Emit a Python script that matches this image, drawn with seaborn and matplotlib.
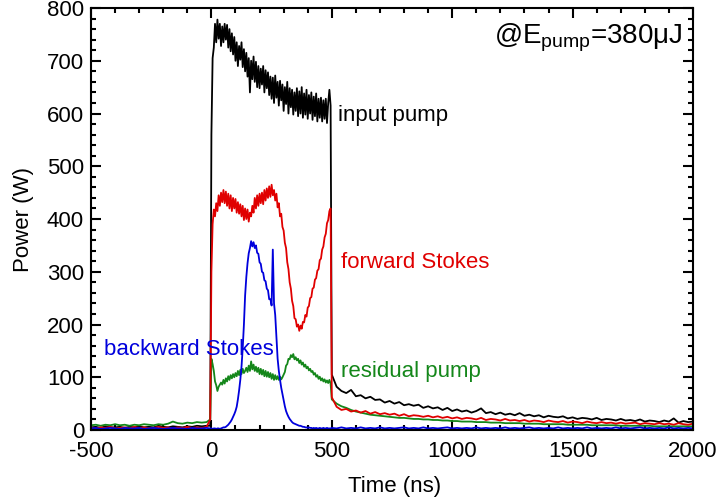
import numpy as np
import pandas as pd
import seaborn as sns
import matplotlib
matplotlib.use("Agg")
import matplotlib.pyplot as plt
from matplotlib.ticker import MultipleLocator

# ---- time grids (ns) ----
t_pre = np.arange(-500, 0, 20)      # 25 samples
t_pulse = np.arange(-5, 500, 5)     # 101 samples
t_post = np.arange(500, 2001, 20)   # 76 samples

# ---- input pump (W) ----
pump_pre = [5, 6, 4, 7, 5, 5, 6, 4, 6, 5, 7, 5, 6, 5, 8, 6, 5, 7, 6, 5, 7, 6, 8, 7, 8]
pump_pulse = [8, 560, 705, 725, 770, 735, 778, 742, 770, 728,
              765, 735, 770, 740, 768, 725, 760, 718, 752, 712,
              745, 700, 735, 690, 728, 702, 735, 688, 722, 680,
              715, 670, 705, 640, 700, 665, 708, 660, 698, 650,
              690, 648, 685, 655, 690, 640, 682, 648, 678, 635,
              670, 628, 668, 620, 672, 630, 660, 615, 662, 625,
              655, 605, 650, 618, 660, 600, 648, 612, 645, 598,
              640, 605, 648, 595, 642, 600, 650, 592, 638, 598,
              645, 590, 635, 600, 640, 588, 632, 595, 638, 585,
              628, 592, 630, 585, 625, 590, 628, 582, 620, 645,
              615]
pump_post = [105, 82, 74, 70, 76, 64, 66, 60, 63, 57,
             58, 52, 55, 50, 53, 47, 49, 46, 48, 42,
             45, 41, 43, 38, 42, 36, 39, 35, 37, 33,
             36, 41, 32, 34, 30, 33, 29, 31, 28, 32,
             27, 29, 26, 28, 24, 27, 25, 24, 26, 22,
             24, 21, 23, 22, 20, 23, 19, 21, 20, 18,
             21, 18, 19, 17, 20, 16, 18, 17, 15, 18,
             16, 22, 14, 17, 15, 16]

# ---- forward Stokes (W) ----
fwd_pre = [4, 3, 5, 4, 6, 3, 4, 5, 3, 6, 4, 5, 3, 4, 6, 4, 5, 3, 5, 4, 6, 4, 5, 4, 6]
fwd_pulse = [20, 300, 390, 418, 405, 430, 415, 445, 425, 450,
             432, 455, 430, 452, 425, 448, 420, 445, 415, 440,
             420, 438, 412, 432, 410, 428, 405, 425, 398, 420,
             400, 418, 395, 412, 405, 425, 412, 440, 420, 445,
             425, 448, 430, 450, 428, 455, 435, 458, 440, 462,
             442, 465, 445, 455, 435, 448, 422, 430, 405, 410,
             385, 378, 355, 345, 318, 305, 280, 268, 245, 235,
             212, 210, 196, 200, 188, 198, 192, 205, 204, 218,
             215, 232, 235, 250, 252, 268, 270, 285, 288, 302,
             305, 322, 325, 342, 348, 365, 372, 392, 398, 415,
             420]
fwd_post = [62, 44, 38, 40, 35, 37, 33, 36, 31, 34,
            30, 32, 29, 31, 27, 30, 26, 28, 27, 25,
            27, 24, 26, 23, 25, 22, 24, 21, 23, 22,
            20, 23, 19, 21, 20, 18, 21, 18, 19, 17,
            19, 16, 18, 17, 15, 18, 16, 15, 17, 14,
            16, 15, 13, 16, 14, 13, 15, 13, 14, 12,
            14, 12, 13, 14, 11, 13, 12, 11, 13, 11,
            12, 10, 13, 11, 10, 12]

# ---- residual pump (W) ----
res_pre = [9, 10, 8, 10, 9, 11, 9, 10, 8, 10, 9, 11, 10, 9, 11, 10, 12, 16, 13, 12, 14, 13, 15, 14, 15]
res_pulse = [20, 135, 125, 112, 92, 85, 74, 82, 86, 90,
             86, 95, 88, 98, 92, 102, 95, 104, 98, 106,
             100, 108, 102, 112, 104, 114, 106, 116, 108, 112,
             118, 110, 122, 112, 130, 115, 124, 112, 120, 110,
             118, 106, 116, 105, 114, 102, 112, 101, 110, 100,
             108, 97, 106, 95, 104, 96, 102, 95, 101, 96,
             100, 105, 110, 122, 125, 135, 134, 142, 138, 144,
             134, 138, 132, 135, 127, 132, 124, 128, 120, 124,
             117, 120, 113, 116, 110, 112, 105, 108, 101, 104,
             97, 101, 94, 98, 92, 96, 90, 94, 89, 95,
             88]
res_post = [58, 50, 45, 42, 38, 35, 33, 31, 29, 28,
            27, 26, 25, 24, 23, 23, 22, 21, 21, 20,
            20, 19, 19, 18, 18, 17, 17, 16, 16, 16,
            15, 15, 15, 14, 14, 14, 13, 13, 13, 13,
            12, 12, 12, 12, 11, 11, 11, 11, 11, 10,
            10, 10, 10, 10, 9, 9, 9, 9, 9, 9,
            8, 8, 8, 8, 8, 8, 8, 7, 7, 7,
            7, 7, 7, 7, 7, 7]

# ---- backward Stokes (W) ----
bwd_pre = [3, 4, 2, 3, 4, 3, 2, 4, 3, 3, 4, 2, 3, 4, 3, 2, 3, 4, 3, 3, 2, 4, 3, 3, 4]
bwd_pulse = [3, 3, 2, 3, 3, 2, 3, 3, 2, 3,
             4, 5, 5, 6, 8, 10, 13, 16, 20, 25,
             30, 36, 44, 58, 75, 95, 120, 155, 200, 255,
             290, 316, 335, 345, 358, 348, 356, 345, 350, 336,
             334, 318, 315, 300, 298, 284, 282, 268, 265, 248,
             248, 236, 342, 240, 218, 175, 135, 112, 95, 80,
             68, 55, 45, 36, 30, 25, 21, 18, 15, 13,
             12, 11, 10, 9, 8, 8, 7, 6, 6, 5,
             5, 4, 5, 4, 4, 3, 4, 3, 4, 3,
             3, 4, 3, 3, 4, 3, 3, 4, 3, 3,
             3]
bwd_post = [4, 3, 5, 3, 4, 3, 5, 3, 4, 3,
            5, 3, 4, 3, 4, 5, 3, 4, 3, 5,
            3, 4, 3, 4, 5, 3, 4, 3, 4, 3,
            5, 3, 4, 3, 4, 3, 5, 3, 4, 3,
            4, 5, 3, 4, 3, 4, 3, 5, 3, 4,
            3, 4, 3, 5, 3, 4, 3, 4, 3, 5,
            3, 4, 3, 4, 5, 3, 4, 3, 4, 3,
            5, 3, 4, 3, 4, 3]

series_names = ["input pump", "residual pump", "forward Stokes", "backward Stokes"]
series_colors = {"input pump": "#000000", "residual pump": "#14871a",
                 "forward Stokes": "#e00000", "backward Stokes": "#0000dc"}
series_values = {
    "input pump": pump_pre + pump_pulse + pump_post,
    "residual pump": res_pre + res_pulse + res_post,
    "forward Stokes": fwd_pre + fwd_pulse + fwd_post,
    "backward Stokes": bwd_pre + bwd_pulse + bwd_post,
}
time_all = np.concatenate([t_pre, t_pulse, t_post])

frames = []
for name in series_names:
    frames.append(pd.DataFrame({"Time": time_all, "Power": series_values[name], "series": name}))
df = pd.concat(frames, ignore_index=True)

sns.set_theme(style="ticks")
plt.rcParams["font.family"] = ["Liberation Sans", "DejaVu Sans"]
plt.rcParams["mathtext.fontset"] = "custom"
plt.rcParams["mathtext.rm"] = "Liberation Sans"
plt.rcParams["mathtext.it"] = "Liberation Sans"
plt.rcParams["axes.unicode_minus"] = False

fig = plt.figure(figsize=(7.2, 5.01), dpi=100)
ax = fig.add_axes([0.1264, 0.1417, 0.8361, 0.8423])

sns.lineplot(data=df, x="Time", y="Power", hue="series", hue_order=series_names,
             palette=series_colors, estimator=None, sort=False, lw=1.3,
             legend=False, ax=ax)

ax.set_xlim(-500, 2000)
ax.set_ylim(0, 800)
ax.xaxis.set_major_locator(MultipleLocator(500))
ax.xaxis.set_minor_locator(MultipleLocator(100))
ax.yaxis.set_major_locator(MultipleLocator(100))
ax.yaxis.set_minor_locator(MultipleLocator(20))

fs = 16
ax.tick_params(which="both", direction="in", top=True, right=True, width=1.5, color="black")
ax.tick_params(which="major", length=7)
ax.tick_params(which="minor", length=3.6)
ax.tick_params(axis="x", which="major", labelsize=fs, pad=8, labelcolor="black")
ax.tick_params(axis="y", which="major", labelsize=fs, pad=5, labelcolor="black")
for s in ax.spines.values():
    s.set_linewidth(1.5)
    s.set_color("black")

ax.set_xlabel("Time (ns)", fontsize=fs, color="black")
ax.set_ylabel("Power (W)", fontsize=fs, color="black")
ax.xaxis.set_label_coords(0.505, -0.11)
ax.yaxis.set_label_coords(-0.095, 0.5)

ax.text(526, 597, "input pump", color=series_colors["input pump"], fontsize=fs, ha="left", va="center")
ax.text(539, 318, "forward Stokes", color=series_colors["forward Stokes"], fontsize=fs, ha="left", va="center")
ax.text(-446, 153, "backward Stokes", color=series_colors["backward Stokes"], fontsize=fs, ha="left", va="center")
ax.text(539, 110, "residual pump", color=series_colors["residual pump"], fontsize=fs, ha="left", va="center")
ax.text(1955, 743, r"@E$_{\mathrm{pump}}$=380μJ", color="black", fontsize=20, ha="right", va="center")

fig.savefig("out.png", dpi=100)
